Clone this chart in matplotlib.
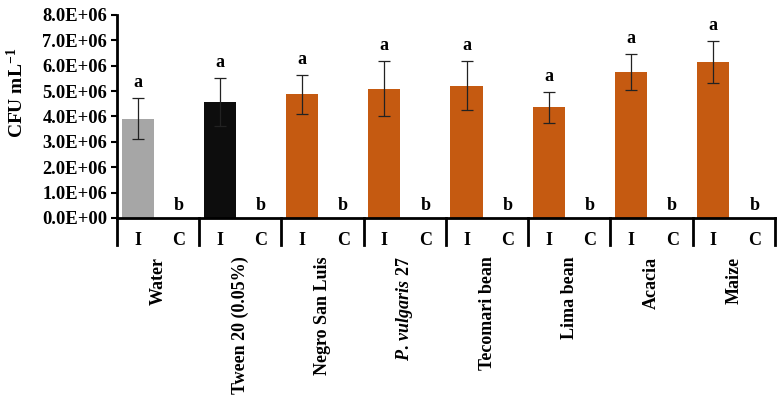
import numpy as np
import matplotlib
matplotlib.use("Agg")
import matplotlib.pyplot as plt
import matplotlib.transforms as mtransforms
from matplotlib.ticker import FuncFormatter

plt.rcParams['font.family'] = 'Liberation Serif'
plt.rcParams['font.weight'] = 'bold'
plt.rcParams['mathtext.fontset'] = 'custom'
plt.rcParams['mathtext.rm'] = 'Liberation Serif:bold'
plt.rcParams['mathtext.it'] = 'Liberation Serif:italic:bold'
plt.rcParams['mathtext.bf'] = 'Liberation Serif:bold'

###########--data--###################

groups = ["Water", "Tween 20 (0.05%)", "Negro San Luis", r"$\mathit{P.\,vulgaris}$ 27",
          "Tecomari bean", "Lima bean", "Acacia", "Maize"]
inoculated = [3.92e6, 4.57e6, 4.87e6, 5.10e6, 5.22e6, 4.36e6, 5.75e6, 6.14e6]
inoc_err = [0.80e6, 0.95e6, 0.77e6, 1.08e6, 0.97e6, 0.60e6, 0.72e6, 0.83e6]
control = [0, 0, 0, 0, 0, 0, 0, 0]
inoc_letters = ["a"] * 8
ctrl_letters = ["b"] * 8
sub_labels = ["I", "C"]
colors = ["#A6A6A6", "#0D0D0D"] + ["#C55A11"] * 6

fig = plt.figure(figsize=(7.82, 4.04), dpi=100)
ax = fig.add_axes([0.1496, 0.4604, 0.8414, 0.5026])

x_i = np.arange(len(groups)) * 2
x_c = x_i + 1

ax.bar(x_i, inoculated, width=0.78, color=colors, zorder=2)
ax.errorbar(x_i, inoculated, yerr=inoc_err, fmt='none', ecolor='#222222',
            elinewidth=0.9, capsize=4, capthick=0.9, zorder=3)
ax.bar(x_c, control, width=0.78, color=colors, zorder=2)

for x, y, e, t in zip(x_i, inoculated, inoc_err, inoc_letters):
    ax.annotate(t, (x, y + e), xytext=(0, 5), textcoords='offset points',
                ha='center', va='bottom', fontsize=13, fontweight='bold')
for x, y, t in zip(x_c, control, ctrl_letters):
    ax.annotate(t, (x, y), xytext=(0, 3), textcoords='offset points',
                ha='center', va='bottom', fontsize=13, fontweight='bold')

ax.set_xlim(-0.5, 2 * len(groups) - 0.5)
ax.set_ylim(0, 8e6)
ax.set_yticks(np.arange(0, 8.1e6, 1e6))
ax.yaxis.set_major_formatter(FuncFormatter(lambda v, p: "%.1E" % v))
ax.tick_params(axis='y', labelsize=13.3, width=1.5, length=4, pad=3)

ax.set_xticks(np.arange(2 * len(groups)))
ax.set_xticklabels(sub_labels * len(groups), fontsize=13, fontweight='bold')
ax.tick_params(axis='x', length=0, pad=10)

for s in ['top', 'right']:
    ax.spines[s].set_visible(False)
for s in ['left', 'bottom']:
    ax.spines[s].set_linewidth(2)

# group separators under the axis
trans = mtransforms.blended_transform_factory(ax.transData, ax.transAxes)
for xs in np.arange(-0.5, 2 * len(groups), 2):
    ax.plot([xs, xs], [0, -0.135], color='black', lw=2, transform=trans,
            clip_on=False)

for g, name in enumerate(groups):
    ax.text(2 * g + 0.5, -0.19, name, transform=trans, rotation=90,
            ha='center', va='top', fontsize=13, fontweight='bold')

ax.set_ylabel(r"CFU mL$^{-1}$", fontsize=14, fontweight='bold')
ax.yaxis.set_label_coords(-0.137, 0.616)

fig.savefig("out.png", dpi=100)
